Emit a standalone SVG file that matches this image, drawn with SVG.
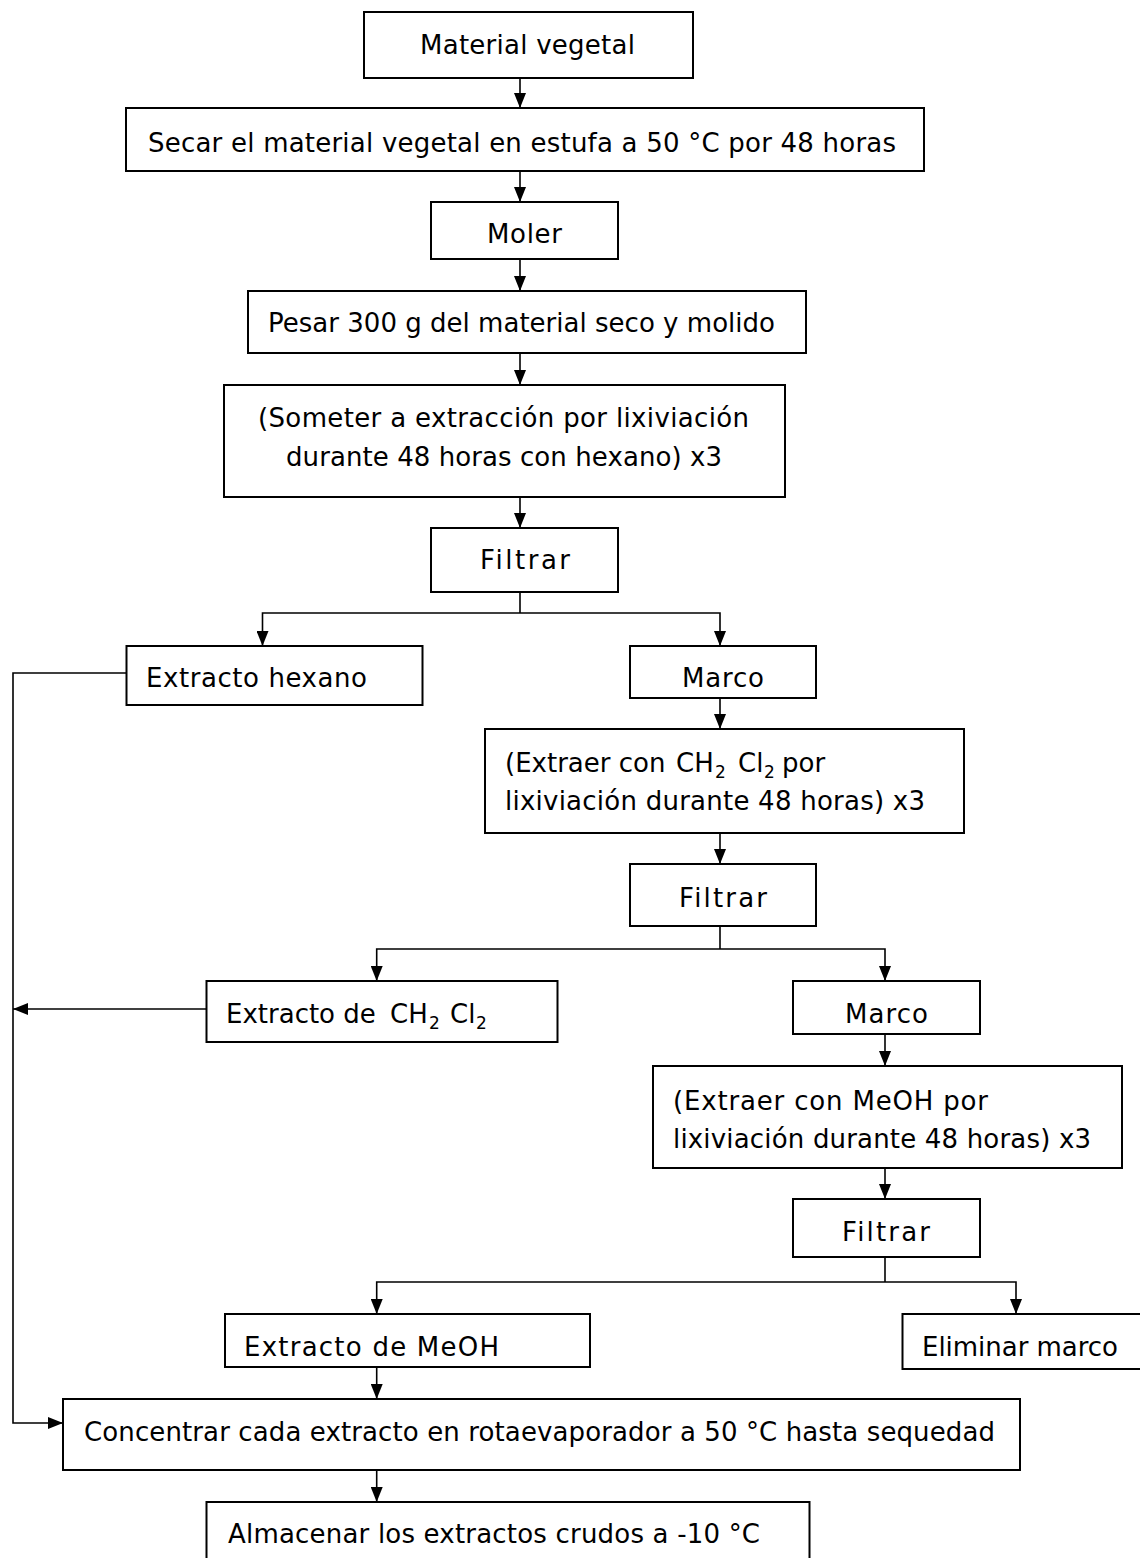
<svg xmlns="http://www.w3.org/2000/svg" width="1140" height="1558" viewBox="0 0 1140 1558">
  <style>
    .box { fill: #ffffff; stroke: #000000; stroke-width: 2; }
    .lbl { font-family: "DejaVu Sans", "Noto Sans", sans-serif; font-size: 26px; fill: #000000; }
    .sub { font-size: 17px; }
    .wire { fill: none; stroke: #000000; stroke-width: 1.6; }
    .arr { marker-end: url(#head); }
  </style>
  <defs>
    <marker id="head" markerUnits="userSpaceOnUse" markerWidth="15" markerHeight="12" refX="15" refY="6" orient="auto">
      <path d="M0,0 L15,6 L0,12 Z" fill="#000000"/>
    </marker>
  </defs>

  <rect x="0" y="0" width="1140" height="1558" fill="#ffffff"/>

  <!-- connectors -->
  <g id="connectors">
    <line class="wire arr" x1="520" y1="78" x2="520" y2="108"/>
    <line class="wire arr" x1="520" y1="171" x2="520" y2="202"/>
    <line class="wire arr" x1="520" y1="259" x2="520" y2="291"/>
    <line class="wire arr" x1="520" y1="353" x2="520" y2="385"/>
    <line class="wire arr" x1="520" y1="497" x2="520" y2="528"/>
    <!-- first split -->
    <polyline class="wire" points="520,592 520,613"/>
    <polyline class="wire arr" points="520,613 262.5,613 262.5,646"/>
    <polyline class="wire arr" points="520,613 720,613 720,646"/>
    <line class="wire arr" x1="720" y1="698" x2="720" y2="729"/>
    <line class="wire arr" x1="720" y1="833" x2="720" y2="864"/>
    <!-- second split -->
    <polyline class="wire" points="720,926 720,949"/>
    <polyline class="wire arr" points="720,949 376.7,949 376.7,981"/>
    <polyline class="wire arr" points="720,949 885,949 885,981"/>
    <line class="wire arr" x1="885" y1="1034" x2="885" y2="1066"/>
    <line class="wire arr" x1="885" y1="1168" x2="885" y2="1199"/>
    <!-- third split -->
    <polyline class="wire" points="885,1257 885,1282"/>
    <polyline class="wire arr" points="885,1282 376.7,1282 376.7,1314"/>
    <polyline class="wire arr" points="885,1282 1016,1282 1016,1314"/>
    <line class="wire arr" x1="376.7" y1="1367" x2="376.7" y2="1399"/>
    <line class="wire arr" x1="376.7" y1="1470" x2="376.7" y2="1502"/>
    <!-- return lines to the concentration step -->
    <polyline class="wire arr" points="126,673 13,673 13,1423 63,1423"/>
    <line class="wire arr" x1="206" y1="1009" x2="13" y2="1009"/>
  </g>

  <g id="n-material">
    <rect class="box" x="364" y="12" width="329" height="66"/>
    <text class="lbl" x="420" y="54" textLength="215">Material vegetal</text>
  </g>
  <g id="n-secar">
    <rect class="box" x="126" y="108" width="798" height="63"/>
    <text class="lbl" x="148" y="152" textLength="748">Secar el material vegetal en estufa a 50 °C por 48 horas</text>
  </g>
  <g id="n-moler">
    <rect class="box" x="431" y="202" width="187" height="57"/>
    <text class="lbl" x="487" y="243" textLength="75">Moler</text>
  </g>
  <g id="n-pesar">
    <rect class="box" x="248" y="291" width="558" height="62"/>
    <text class="lbl" x="268" y="332" textLength="507">Pesar 300 g del material seco y molido</text>
  </g>
  <g id="n-hexano">
    <rect class="box" x="224" y="385" width="561" height="112"/>
    <text class="lbl" x="258" y="427" textLength="491">(Someter a extracción por lixiviación</text>
    <text class="lbl" x="286" y="466" textLength="436">durante 48 horas con hexano) x3</text>
  </g>
  <g id="n-filtrar1">
    <rect class="box" x="431" y="528" width="187" height="64"/>
    <text class="lbl" x="480" y="569" textLength="90">Filtrar</text>
  </g>
  <g id="n-ext-hexano">
    <rect class="box" x="126.5" y="646" width="296" height="59"/>
    <text class="lbl" x="146" y="687" textLength="221">Extracto hexano</text>
  </g>
  <g id="n-marco1">
    <rect class="box" x="630" y="646" width="186" height="52"/>
    <text class="lbl" x="682" y="687" textLength="82">Marco</text>
  </g>
  <g id="n-ch2cl2">
    <rect class="box" x="485" y="729" width="479" height="104"/>
    <text class="lbl" y="772"><tspan x="505">(Extraer con </tspan><tspan x="676">CH</tspan><tspan x="715" class="sub" dy="6">2</tspan><tspan x="738" dy="-6">Cl</tspan><tspan x="764" class="sub" dy="6">2</tspan><tspan x="782" dy="-6">por</tspan></text>
    <text class="lbl" x="505" y="810" textLength="420">lixiviación durante 48 horas) x3</text>
  </g>
  <g id="n-filtrar2">
    <rect class="box" x="630" y="864" width="186" height="62"/>
    <text class="lbl" x="679" y="907" textLength="88">Filtrar</text>
  </g>
  <g id="n-ext-ch2cl2">
    <rect class="box" x="206.5" y="981" width="351" height="61"/>
    <text class="lbl" y="1023"><tspan x="226">Extracto de </tspan><tspan x="390">CH</tspan><tspan x="429" class="sub" dy="6">2</tspan><tspan x="450" dy="-6">Cl</tspan><tspan x="476" class="sub" dy="6">2</tspan></text>
  </g>
  <g id="n-marco2">
    <rect class="box" x="793" y="981" width="187" height="53"/>
    <text class="lbl" x="845" y="1023" textLength="83">Marco</text>
  </g>
  <g id="n-meoh">
    <rect class="box" x="653" y="1066" width="469" height="102"/>
    <text class="lbl" x="673" y="1110" textLength="315">(Extraer con MeOH por</text>
    <text class="lbl" x="673" y="1148" textLength="418">lixiviación durante 48 horas) x3</text>
  </g>
  <g id="n-filtrar3">
    <rect class="box" x="793" y="1199" width="187" height="58"/>
    <text class="lbl" x="842" y="1241" textLength="88">Filtrar</text>
  </g>
  <g id="n-ext-meoh">
    <rect class="box" x="225" y="1314" width="365" height="53"/>
    <text class="lbl" x="244" y="1356" textLength="255">Extracto de MeOH</text>
  </g>
  <g id="n-eliminar">
    <rect class="box" x="902.5" y="1314" width="245" height="55"/>
    <text class="lbl" x="922" y="1356" textLength="196">Eliminar marco</text>
  </g>
  <g id="n-concentrar">
    <rect class="box" x="63" y="1399" width="957" height="71"/>
    <text class="lbl" x="84" y="1441" textLength="911">Concentrar cada extracto en rotaevaporador a 50 °C hasta sequedad</text>
  </g>
  <g id="n-almacenar">
    <rect class="box" x="206.5" y="1502" width="603" height="70"/>
    <text class="lbl" x="228" y="1543" textLength="532">Almacenar los extractos crudos a -10 °C</text>
  </g>
</svg>
